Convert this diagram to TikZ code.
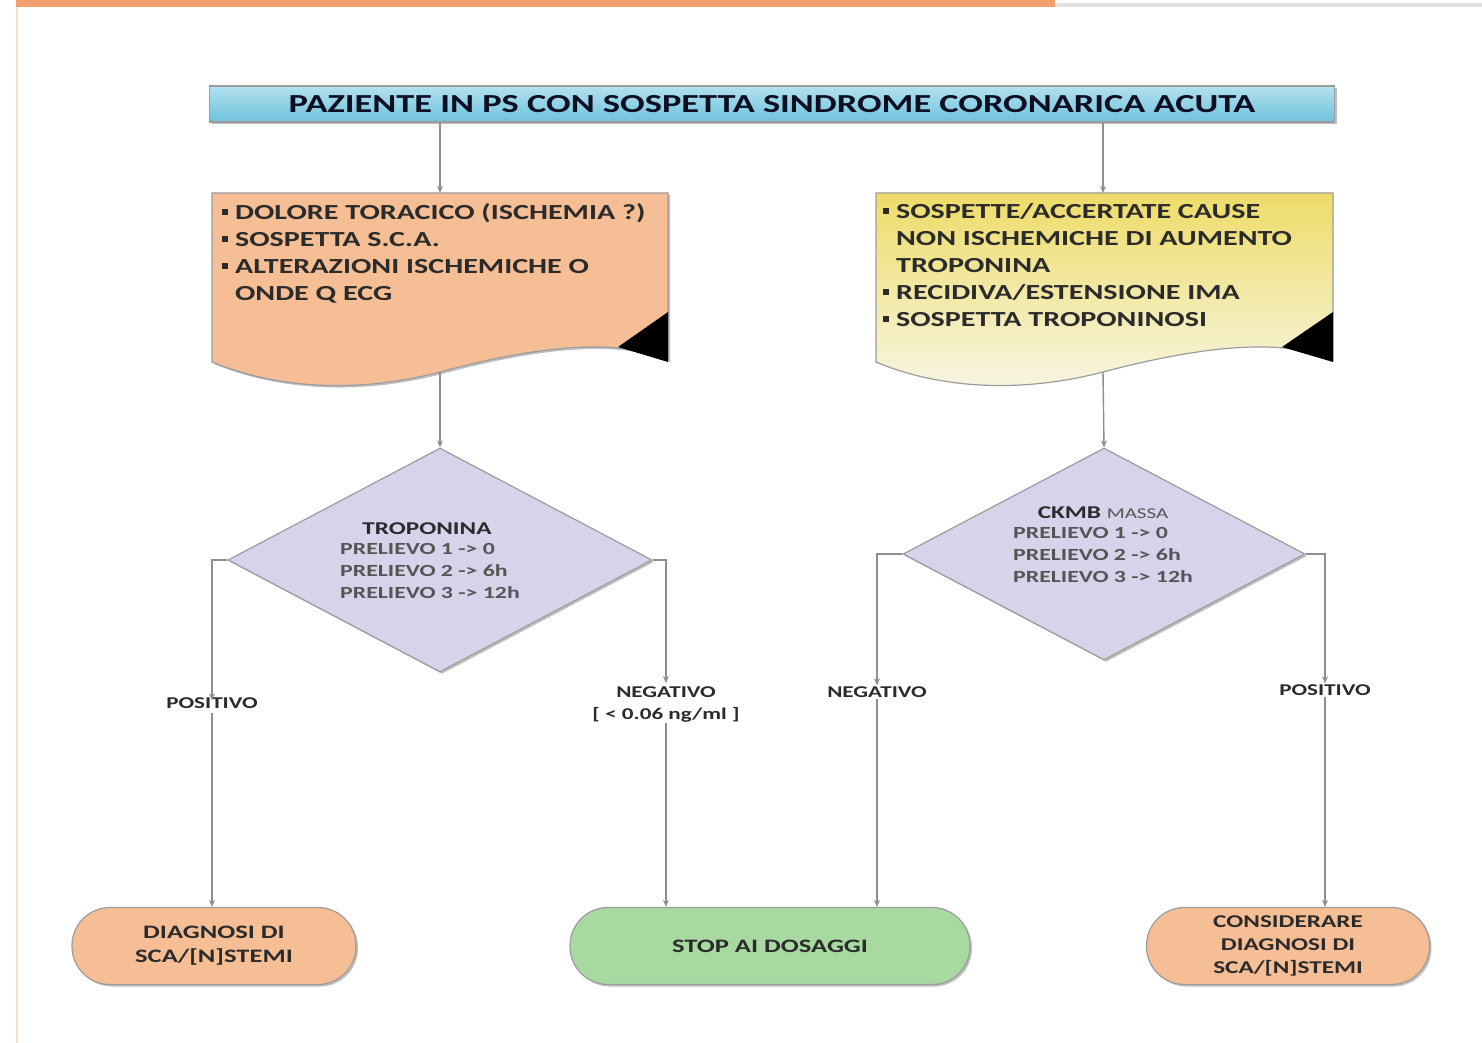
\documentclass[tikz,border=0pt]{standalone}
\usepackage{fontspec}
\setmainfont{Carlito}[FakeStretch=1.4]
\usetikzlibrary{shapes.geometric,arrows.meta,shadows}
\definecolor{borderc}{HTML}{9C9C9C}
\definecolor{linec}{HTML}{8E8E8E}
\definecolor{orfill}{HTML}{F6BE94}
\definecolor{grfill}{HTML}{A8D9A1}
\definecolor{lavfill}{HTML}{D7D3EA}
\definecolor{yeltop}{HTML}{EEDC68}
\definecolor{yelbot}{HTML}{F8F6E8}
\definecolor{bluetop}{HTML}{B2E1F0}
\definecolor{bluebot}{HTML}{6EC3DC}
\definecolor{txt}{HTML}{2B2B2B}
\definecolor{dtxt}{HTML}{555555}
\definecolor{barc}{HTML}{F0A06C}
\newcommand{\bul}{\rule[0.2em]{0.25em}{0.28em}\hspace{0.35em}}
\begin{document}
\begin{tikzpicture}[x=1pt,y=-1pt,
  conn/.style={draw=linec,line width=1.4pt,-{Stealth[length=7pt,width=6pt]}},
  shad/.style={drop shadow={shadow xshift=2pt,shadow yshift=-2pt,opacity=.25,fill=black}},
  term/.style={draw=borderc,line width=1.2pt,minimum height=77pt,rounded corners=38pt,align=center,font=\fontsize{19}{24}\selectfont\bfseries,text=txt,shad},
  lbl/.style={font=\fontsize{16.5}{22}\selectfont\bfseries,text=txt,align=center,inner sep=1pt},
  dia/.style={diamond,draw=borderc,line width=1.2pt,fill=lavfill,inner sep=0pt,shad},
  dtext/.style={font=\fontsize{17}{22}\selectfont\bfseries,text=dtxt,align=left,anchor=north west,inner sep=0pt},
  doctext/.style={font=\fontsize{21.5}{27}\selectfont\bfseries,text=txt,align=left,anchor=north west,inner sep=0pt}
]
\useasboundingbox (0,0) rectangle (1482,1043);
\fill[white] (0,0) rectangle (1482,1043);
% frame
\fill[barc] (16,0) rectangle (1055,7);
\fill[black!12] (1055,3) rectangle (1482,7);
\draw[line width=1.5pt,color=barc!35] (17,7) -- (17,1043);

% header
\node[draw=borderc,line width=1.2pt,top color=bluetop,bottom color=bluebot,minimum width=1125pt,minimum height=36pt,
  font=\fontsize{26}{30}\selectfont\bfseries,text=txt!80!blue!40!black,shad] (hdr) at (772,104)
  {PAZIENTE IN PS CON SOSPETTA SINDROME CORONARICA ACUTA};

% left document
\filldraw[fill=orfill,draw=borderc,line width=1.2pt,shad]
  (212,193) -- (668,193) -- (668,360)
  .. controls (620,338) and (540,345) .. (440,372)
  .. controls (340,398) and (260,382) .. (212,362) -- cycle;
\fill[black] (668,312) -- (668,362) -- (618,347) -- cycle;
\coordinate (d1n) at (440,193);
\coordinate (d1s) at (440,372);
\node[doctext] (d1t) at (222,203) {\bul DOLORE TORACICO (ISCHEMIA ?)\\\bul SOSPETTA S.C.A.\\\bul ALTERAZIONI ISCHEMICHE O\\\phantom{\bul}ONDE Q ECG};

% right document
\shade[top color=yeltop,bottom color=yelbot]
  (876,193) -- (1333,193) -- (1333,360)
  .. controls (1285,338) and (1205,345) .. (1103,372)
  .. controls (1003,398) and (923,382) .. (876,362) -- cycle;
\draw[draw=borderc,line width=1.2pt]
  (876,193) -- (1333,193) -- (1333,360)
  .. controls (1285,338) and (1205,345) .. (1103,372)
  .. controls (1003,398) and (923,382) .. (876,362) -- cycle;
\fill[black] (1333,312) -- (1333,362) -- (1282,347) -- cycle;
\coordinate (d2n) at (1103,193);
\coordinate (d2s) at (1103,372);
\node[doctext] (d2t) at (883,203) {\bul SOSPETTE/ACCERTATE CAUSE\\\phantom{\bul}NON ISCHEMICHE DI AUMENTO\\\phantom{\bul}TROPONINA\\\bul RECIDIVA/ESTENSIONE IMA\\\bul SOSPETTA TROPONINOSI};

% diamonds
\node[dia,minimum width=424pt,minimum height=224pt] (dl) at (440,560) {};
\node[font=\fontsize{18}{22}\selectfont\bfseries,text=txt,inner sep=0pt] (dlt) at (427,529) {TROPONINA};
\node[dtext] (dll) at (340,543) {PRELIEVO 1 -> 0\\PRELIEVO 2 -> 6h\\PRELIEVO 3 -> 12h};

\node[dia,minimum width=402pt,minimum height=212pt] (dr) at (1104,554) {};
\node[font=\fontsize{18}{22}\selectfont,text=txt,inner sep=0pt] (drt) at (1103,513) {\textbf{CKMB} {\color{dtxt}\fontsize{15}{22}\selectfont MASSA}};
\node[dtext] (drl) at (1013,527) {PRELIEVO 1 -> 0\\PRELIEVO 2 -> 6h\\PRELIEVO 3 -> 12h};

% labels
\node[lbl] (pos1) at (212,703) {POSITIVO};
\node[lbl] (neg1) at (666,704) {NEGATIVO\\{[} < 0.06 ng/ml ]};
\node[lbl] (neg2) at (877,692) {NEGATIVO};
\node[lbl] (pos2) at (1325,690) {POSITIVO};

% terminals
\node[term,fill=orfill,minimum width=284pt] (t1) at (214,946) {DIAGNOSI DI\\SCA/[N]STEMI};
\node[term,fill=grfill,minimum width=400pt] (t2) at (770,946) {STOP AI DOSAGGI};
\node[term,fill=orfill,minimum width=283pt,font=\fontsize{18}{23}\selectfont\bfseries] (t3) at (1288,946) {CONSIDERARE\\DIAGNOSI DI\\SCA/[N]STEMI};

% connectors
\draw[conn] (hdr.south -| d1n) -- (d1n);
\draw[conn] (hdr.south -| d2n) -- (d2n);
\draw[conn] (d1s) -- (dl.north);
\draw[conn] (d2s) -- (dr.north);
\draw[conn] (dl.west) -| ([yshift=-4pt]pos1.north);
\draw[conn] (dl.east) -| ([yshift=2pt]neg1.north);
\draw[conn] (dr.west) -| (neg2.north);
\draw[conn] (dr.east) -| (pos2.north);
\draw[conn] ([yshift=-3pt]pos1.south) -- (pos1.south |- t1.north);
\draw[conn] (neg1.south) -- (neg1.south |- t2.north);
\draw[conn] (neg2.south) -- (neg2.south |- t2.north);
\draw[conn] (pos2.south) -- (pos2.south |- t3.north);
\end{tikzpicture}
\end{document}
